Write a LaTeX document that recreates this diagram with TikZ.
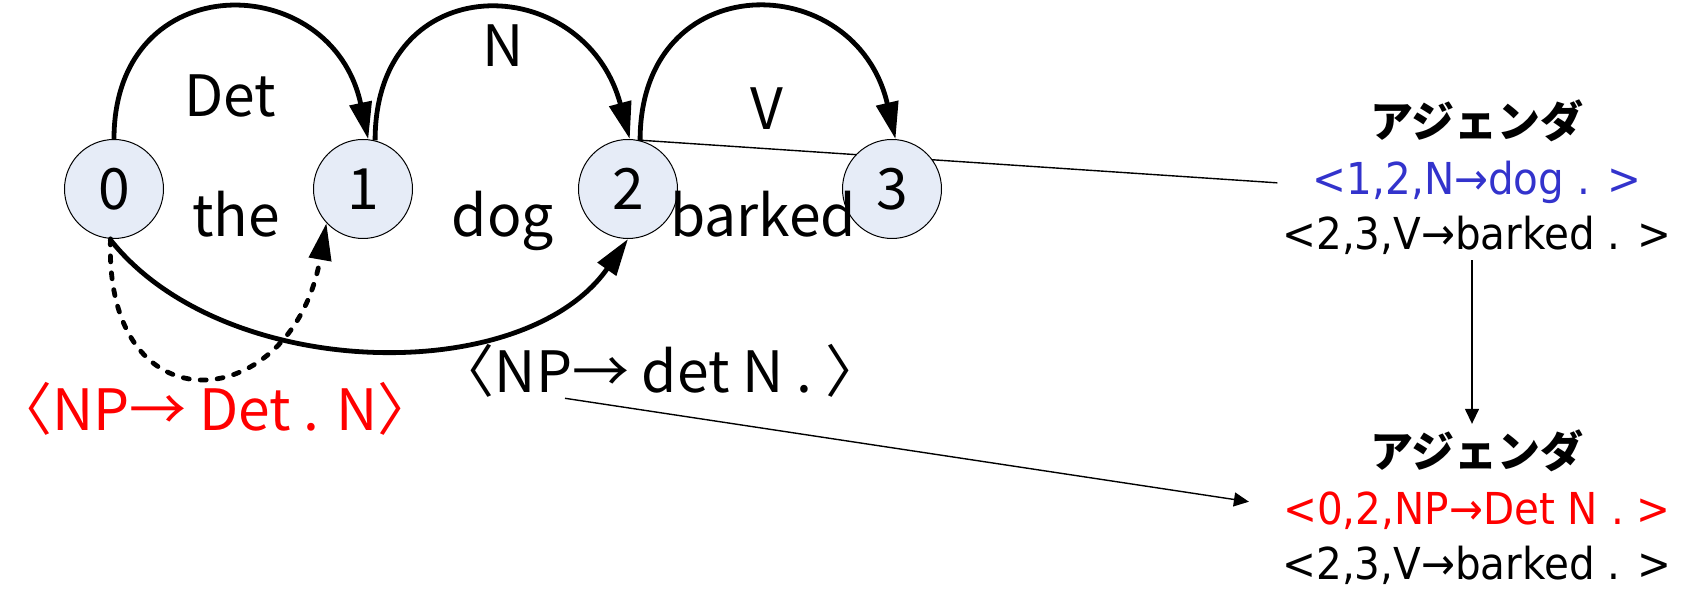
\documentclass[tikz,border=0pt]{standalone}
\usepackage{fontspec}
\usetikzlibrary{arrows.meta, automata, positioning, backgrounds}
\newfontfamily\jpfont{Noto Sans CJK JP}
\newfontfamily\agfont{DejaVu Sans}[FakeStretch=0.92]
\definecolor{statefill}{RGB}{230,236,247}
\definecolor{agblue}{RGB}{51,51,204}

\begin{document}
\begin{tikzpicture}[
      x=0.5pt, y=0.5pt, on grid, >={Triangle[length=18.5pt,width=11pt]},
      every state/.style={minimum size=49.5pt, inner sep=0pt, line width=0.5pt,
        fill=statefill, font=\jpfont\fontsize{28.5}{34}\selectfont},
      word/.style={inner sep=0pt, anchor=base, font=\jpfont\fontsize{28.5}{34}\selectfont},
      agtitle/.style={inner sep=0pt, anchor=base, font=\jpfont\bfseries\fontsize{21.5}{26}\selectfont},
      agline/.style={inner sep=0pt, anchor=base, font=\agfont\fontsize{22}{26}\selectfont},
      arc/.style={->, line width=2.4pt},
      link/.style={line width=0.7pt},
      flow/.style={-{Triangle[length=7.5pt,width=7pt]}, line width=0.7pt},
      ]
      \useasboundingbox (0,0) rectangle (1683,593);

      % chart vertices
      \node[state] (s_0) at (114,404)       {0};
      \node[state] (s_1) [right=124.5pt of s_0] {1};
      \node[state] (s_2) [right=132.5pt of s_1] {2};
      \node[state] (s_3) [right=132pt of s_2]   {3};

      % words and categories
      \node[word] (det)    at (230,476) {Det};
      \node[word] (cat_n)  at (503,526) {N};
      \node[word] (cat_v)  at (767,463) {V};
      \node[word] (w_the)  at (236,356) {the};
      \node[word] (w_dog)  at (503,356) {dog};
      \node[word] (w_bark) at (763,356) {barked};

      % active edges
      \node[word, text=red] (r_a) at (215,162) {〈NP→ Det . N〉};
      \node[word]           (r_b) at (660,200) {〈NP→ det N . 〉};

      % agenda before and after
      \node[agtitle]              (a_1h) at (1477,455) {アジェンダ};
      \node[agline, text=agblue]  (a_1a) at (1477,398) {<1,2,N→dog . >};
      \node[agline]               (a_1b) at (1477,343) {<2,3,V→barked . >};
      \node[agtitle]              (a_2h) at (1477,125) {アジェンダ};
      \node[agline, text=red]     (a_2a) at (1477,68)  {<0,2,NP→Det N . >};
      \node[agline]               (a_2b) at (1477,13)  {<2,3,V→barked . >};

      \begin{scope}[on background layer]
        \draw[link] (s_2.78) -- ([xshift=-17.5pt]a_1a.west);
      \end{scope}

      \draw[arc] (s_0.north) to[out=90, in=102, looseness=1.76] (s_1.84);
      \draw[arc] (s_1.76) to[out=90, in=105, looseness=1.76] (s_2.88);
      \draw[arc] (s_2.76) to[out=90, in=103, looseness=1.76] (s_3.86);
      \draw[arc] (s_0.265) to[out=-52, in=235, looseness=0.9] (s_2.south);
      \draw[arc, dash pattern=on 3pt off 5.5pt, line cap=round]
        (s_0.266) to[out=-92, in=260, looseness=2.3] (s_1.223);

      \draw[flow] ([shift={(-2.5pt,-2.3pt)}]a_1b.south) -- ([shift={(-2.5pt,3pt)}]a_2h.north);
      \draw[flow] ([xshift=-47.5pt]r_b.south) -- ([shift={(-17pt,4.75pt)}]a_2a.west);
    \end{tikzpicture}
\end{document}
